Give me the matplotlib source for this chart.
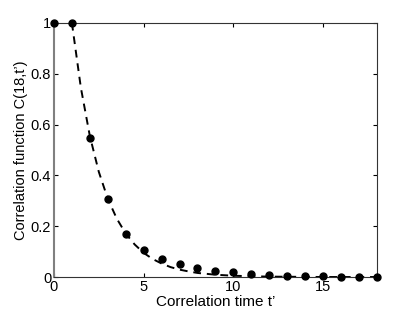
import matplotlib
matplotlib.use('Agg')
import matplotlib.pyplot as plt

plt.rcParams['font.family'] = ['Liberation Sans', 'DejaVu Sans']

# measured correlation values
t_pts = list(range(0, 19))
c_pts = [1.0, 1.0, 0.545, 0.305, 0.17, 0.105, 0.07, 0.05, 0.035, 0.025,
         0.018, 0.012, 0.008, 0.005, 0.004, 0.002, 0.001, 0.001, 0.0]

# dashed fit curve
t_fit = [1, 1.5, 2, 2.5, 3, 3.5, 4, 4.5, 5, 5.5, 6, 6.5, 7, 7.5, 8, 9, 10,
         11, 12, 13, 14, 15, 16, 17, 18]
c_fit = [1.0, 0.745, 0.555, 0.414, 0.308, 0.23, 0.171, 0.128, 0.095, 0.071,
         0.053, 0.039, 0.029, 0.022, 0.016, 0.009, 0.005, 0.003, 0.0015,
         0.001, 0.0005, 0.0, 0.0, 0.0, 0.0]

fig = plt.figure(figsize=(4.15, 3.13), dpi=100)
ax = fig.add_axes([0.130, 0.115, 0.778, 0.812])

ax.plot(t_fit, c_fit, '--', color='black', lw=1.4, dashes=(4, 3))
ax.plot(t_pts, c_pts, 'o', color='black', ms=5, clip_on=False, zorder=3)

ax.set_xlim(0, 18)
ax.set_ylim(0, 1)
ax.set_xticks([0, 5, 10, 15])
ax.set_yticks([0, 0.2, 0.4, 0.6, 0.8, 1])
ax.set_yticklabels(['0', '0.2', '0.4', '0.6', '0.8', '1'])
ax.tick_params(direction='in', length=3, labelsize=10.5, top=True, right=True, pad=2)
for s in ax.spines.values():
    s.set_linewidth(0.8)
    s.set_color('0.2')
ax.spines['left'].set_color('0.5')
ax.spines['left'].set_linewidth(1.5)

ax.set_xlabel('Correlation time t\u2019', fontsize=11, labelpad=1)
ax.set_ylabel('Correlation function C(18,t\u2019)', fontsize=10.5, labelpad=2)

fig.savefig('out.png', dpi=100)
